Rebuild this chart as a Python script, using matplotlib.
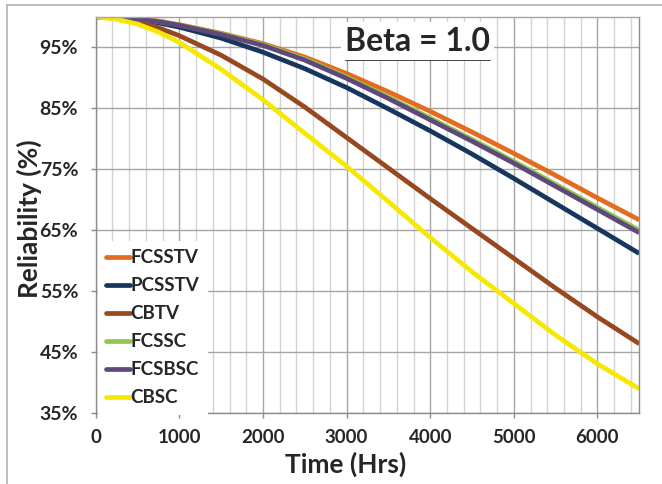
import matplotlib
matplotlib.use("Agg")
import matplotlib.pyplot as plt
from matplotlib.lines import Line2D
from matplotlib.ticker import FixedLocator, MultipleLocator, FuncFormatter

# time axis (hours) - denser at the start where curves bend
hours = [0, 250, 500, 750, 1000, 1500, 2000, 2500, 3000, 3500, 4000, 4500, 5000, 5500, 6000, 6500]

# reliability (%)
fcsstv = [100, 99.95, 99.7, 99.3, 98.7, 97.3, 95.6, 93.4, 90.7, 87.7, 84.5, 81.1, 77.6, 74.0, 70.3, 66.7]
pcsstv = [100, 99.9, 99.6, 99.0, 98.3, 96.5, 94.2, 91.5, 88.4, 84.9, 81.3, 77.5, 73.5, 69.4, 65.3, 61.2]
cbtv = [100, 99.8, 99.2, 98.2, 96.9, 93.7, 89.8, 85.2, 80.2, 75.2, 70.2, 65.3, 60.4, 55.5, 50.8, 46.4]
fcssc = [100, 99.95, 99.67, 99.22, 98.65, 97.2, 95.45, 93.1, 90.1, 86.85, 83.4, 79.9, 76.3, 72.55, 68.75, 65.0]
fcsbsc = [100, 99.95, 99.65, 99.2, 98.6, 97.1, 95.3, 92.9, 89.9, 86.6, 83.1, 79.6, 76.0, 72.2, 68.4, 64.6]
cbsc = [100, 99.6, 98.8, 97.5, 95.8, 91.4, 86.4, 80.9, 75.5, 69.7, 63.8, 58.2, 53.0, 47.8, 43.1, 39.0]

labels = ["FCSSTV", "PCSSTV", "CBTV", "FCSSC", "FCSBSC", "CBSC"]
series = [fcsstv, pcsstv, cbtv, fcssc, fcsbsc, cbsc]
colors = ["#E46C1E", "#17365D", "#984820", "#92C850", "#5F497A", "#F7E800"]

plt.rcParams["font.family"] = ["Lato", "DejaVu Sans"]
plt.rcParams["font.weight"] = "bold"

fig = plt.figure(figsize=(6.62, 4.84), dpi=100)
ax = fig.add_axes((0.1446, 0.1461, 0.8211, 0.8192))

for vals, lab, col in zip(series, labels, colors):
    ax.plot(hours, vals, color=col, lw=3.4, label=lab, solid_joinstyle="round", solid_capstyle="butt")

ax.set_xlim(0, 6500)
ax.set_ylim(35, 100)
ax.xaxis.set_major_locator(MultipleLocator(1000))
ax.xaxis.set_minor_locator(MultipleLocator(200))
ax.yaxis.set_major_locator(FixedLocator([35, 45, 55, 65, 75, 85, 95]))
ax.yaxis.set_major_formatter(FuncFormatter(lambda v, p: f"{v:.0f}%"))

ax.grid(True, which="major", axis="both", color="#A6A6A6", lw=1.0)
ax.grid(True, which="minor", axis="x", color="#D3D3D3", lw=1.0)
ax.set_axisbelow(True)

for s in ax.spines.values():
    s.set_color("#8C8C8C")
    s.set_linewidth(1.0)
ax.spines["top"].set_color("#A6A6A6")

ax.tick_params(axis="both", which="major", length=3.6, width=1, color="#8C8C8C",
               labelsize=13.5, labelcolor="#262626")
ax.tick_params(axis="y", which="major", labelsize=14)
ax.tick_params(axis="x", which="minor", length=0)
ax.tick_params(axis="x", which="major", pad=8)
ax.tick_params(axis="y", which="major", pad=9)

ax.set_xlabel("Time (Hrs)", fontsize=19, fontweight="bold", color="#262626")
ax.xaxis.set_label_coords(0.46, -0.096)
ax.set_ylabel("Reliability (%)", fontsize=19, fontweight="bold", color="#262626")
ax.yaxis.set_label_coords(-0.098, 0.49)

leg = ax.legend(loc="center left", bbox_to_anchor=(0.004, 0.2156), fontsize=13.5, frameon=True,
                handlelength=1.25, handletextpad=0.05, labelspacing=0.59, borderpad=0.45,
                borderaxespad=0.0, fancybox=False)
leg.get_frame().set_facecolor("white")
leg.get_frame().set_edgecolor("none")
leg.get_frame().set_alpha(1.0)
for t in leg.get_texts():
    t.set_color("#262626")
for h in leg.legend_handles:
    h.set_linewidth(3.4)
    h.set_solid_capstyle("round")

# title box with underline
fig.text(0.6307, 0.915, "Beta = 1.0", fontsize=23, fontweight="bold", color="#262626",
         ha="center", va="center",
         bbox=dict(facecolor="white", edgecolor="none", pad=3))
fig.add_artist(Line2D([346 / 662, 489 / 662], [1 - 58.5 / 484, 1 - 58.5 / 484],
                      color="#262626", lw=1.9))

# outer chart-area border (top and left visible)
fig.add_artist(Line2D([6.7 / 662, 1.0], [1 - 4.5 / 484, 1 - 4.5 / 484], color="#B4B4B4", lw=1.2))
fig.add_artist(Line2D([6.7 / 662, 6.7 / 662], [0.0, 1 - 4.5 / 484], color="#B4B4B4", lw=1.2))

fig.savefig("out.png", dpi=100)
